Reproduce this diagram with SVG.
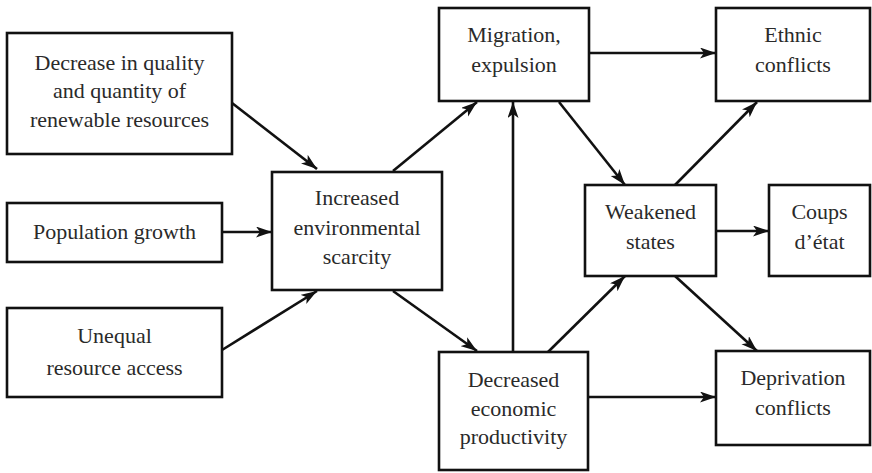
<svg xmlns="http://www.w3.org/2000/svg" width="872" height="473" viewBox="0 0 872 473">
<style>
.box{fill:#fff;stroke:#111;stroke-width:2.6}
.t{font-family:"Liberation Serif","DejaVu Serif",serif;font-size:22px;fill:#2a2a2a;text-anchor:middle}
.c{stroke:#111;stroke-width:2.6;fill:none;marker-end:url(#ah)}
</style>
<defs>
<marker id="ah" markerUnits="userSpaceOnUse" markerWidth="18" markerHeight="12" refX="16" refY="5.5" orient="auto">
<path d="M0,0 L16,5.5 L0,11 L4,5.5 z" fill="#111"/>
</marker>
</defs>
<rect width="872" height="473" fill="#fff"/>
<g id="connectors">
<line class="c" x1="232" y1="103" x2="317" y2="169"/>
<line class="c" x1="222" y1="232" x2="272" y2="232"/>
<line class="c" x1="222" y1="350" x2="317" y2="291"/>
<line class="c" x1="393" y1="171" x2="477" y2="102"/>
<line class="c" x1="393" y1="291" x2="477" y2="351"/>
<line class="c" x1="513" y1="352" x2="513" y2="102"/>
<line class="c" x1="589" y1="53" x2="716" y2="53"/>
<line class="c" x1="559" y1="102" x2="625" y2="185"/>
<line class="c" x1="675" y1="185" x2="757" y2="102"/>
<line class="c" x1="716" y1="231" x2="769" y2="231"/>
<line class="c" x1="548" y1="352" x2="625" y2="276"/>
<line class="c" x1="675" y1="276" x2="757" y2="351"/>
<line class="c" x1="588" y1="397" x2="716" y2="397"/>
</g>
<g id="n-decrease">
<rect class="box" x="7" y="33" width="225" height="121"/>
<text class="t" x="119.5" y="70">Decrease in quality</text>
<text class="t" x="119.5" y="98">and quantity of</text>
<text class="t" x="119.5" y="127">renewable resources</text>
</g>
<g id="n-population">
<rect class="box" x="7" y="203" width="215" height="59"/>
<text class="t" x="114.5" y="239">Population growth</text>
</g>
<g id="n-unequal">
<rect class="box" x="7" y="308" width="215" height="89"/>
<text class="t" x="114.5" y="343">Unequal</text>
<text class="t" x="114.5" y="375">resource access</text>
</g>
<g id="n-increased">
<rect class="box" x="272" y="172" width="170" height="118"/>
<text class="t" x="357" y="205">Increased</text>
<text class="t" x="357" y="235">environmental</text>
<text class="t" x="357" y="264">scarcity</text>
</g>
<g id="n-migration">
<rect class="box" x="439" y="8" width="150" height="93"/>
<text class="t" x="514" y="42">Migration,</text>
<text class="t" x="514" y="72">expulsion</text>
</g>
<g id="n-decreased">
<rect class="box" x="439" y="352" width="149" height="118"/>
<text class="t" x="513.5" y="387">Decreased</text>
<text class="t" x="513.5" y="416">economic</text>
<text class="t" x="513.5" y="444">productivity</text>
</g>
<g id="n-weakened">
<rect class="box" x="585" y="185" width="131" height="91"/>
<text class="t" x="650.5" y="219">Weakened</text>
<text class="t" x="650.5" y="249">states</text>
</g>
<g id="n-ethnic">
<rect class="box" x="716" y="8" width="154" height="93"/>
<text class="t" x="793" y="42">Ethnic</text>
<text class="t" x="793" y="72">conflicts</text>
</g>
<g id="n-coups">
<rect class="box" x="769" y="185" width="101" height="91"/>
<text class="t" x="819.5" y="219">Coups</text>
<text class="t" x="819.5" y="249">d’état</text>
</g>
<g id="n-deprivation">
<rect class="box" x="716" y="351" width="154" height="94"/>
<text class="t" x="793" y="385">Deprivation</text>
<text class="t" x="793" y="415">conflicts</text>
</g>
</svg>
